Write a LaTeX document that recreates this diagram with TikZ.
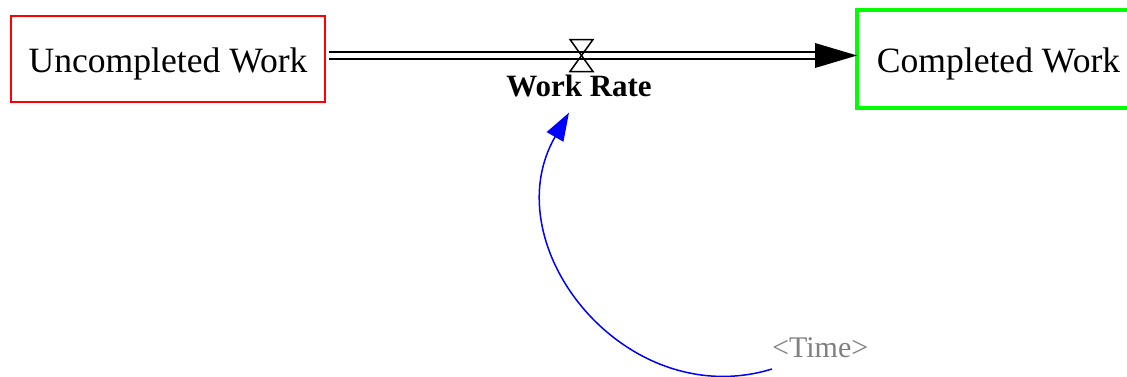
\documentclass[tikz,border=0pt]{standalone}
\usepackage{fontspec}
\setmainfont{Liberation Serif}
\usetikzlibrary{arrows.meta, positioning, calc}

\tikzset{
  stock/.style={draw, rectangle, inner sep=0pt, outer sep=0pt, text height=27pt, text depth=0pt, font=\fontsize{35.6}{40}\selectfont},
  pipe/.style={draw=black, line width=1.8pt, double distance=5.8pt},
  infl/.style={draw=blue, line width=1.5pt, -{Triangle[length=28pt, width=19pt]}},
}

\begin{document}
\begin{tikzpicture}[x=1pt, y=1pt]
    \useasboundingbox (0,0) rectangle (1127,376);
    \clip (0,0) rectangle (1127,376);

    % Draw the two stocks
    \node[stock, draw=red, line width=1.7pt, minimum width=314pt, minimum height=86pt] (todo) at (168,317) {Uncompleted Work};
    \node[stock, draw=green, line width=4pt, minimum width=283pt, minimum height=98pt] (done) at (998.5,317) {Completed Work};

    % Draw flow pipe with its head
    \coordinate (pipeA) at ([xshift=4pt, yshift=3.5pt]todo.east);
    \coordinate (pipeB) at ([yshift=3.5pt]done.west);
    \draw[pipe] (pipeA) -- ([xshift=-41pt]pipeB);
    \fill (pipeB) -- ++(-42,12.5) -- ++(0,-25) -- cycle;

    % Draw valve on the pipe
    \coordinate (valve) at (581.5,320.5);
    \draw[line width=1.5pt] ([shift={(-11.5,16)}]valve) -- ++(23,0) -- ++(-23,-32) -- ++(23,0) -- cycle;

    % Flow name and shadow variable
    \node[font=\fontsize{31}{34}\selectfont\bfseries, anchor=base, inner sep=2pt] (rate) at (579,280) {Work Rate};
    \node[font=\fontsize{30}{33}\selectfont, text=gray, anchor=base west, inner sep=0pt] (time) at (772,19) {<Time>};

    % Draw influence arrow
    \draw[infl] ([yshift=-12pt]time.base west) to[out=197, in=240, looseness=1.2] ([xshift=-10pt, yshift=-14pt]rate.south);

\end{tikzpicture}
\end{document}
